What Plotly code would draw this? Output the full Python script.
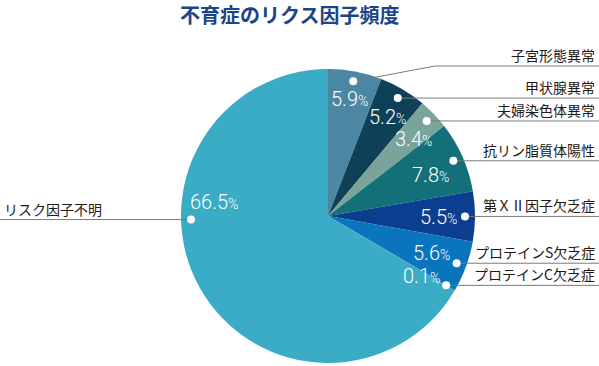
import math
import plotly.graph_objects as go

# ---- data ----
labels = ["子宮形態異常", "甲状腺異常", "夫婦染色体異常", "抗リン脂質体陽性",
          "第ＸⅡ因子欠乏症", "プロテインS欠乏症", "プロテインC欠乏症", "リスク因子不明"]
values = [5.9, 5.2, 3.4, 7.8, 5.5, 5.6, 0.1, 66.5]
colors = ["#4b87a3", "#0e4158", "#7aa39a", "#137078", "#0b3e8e", "#0a74bd", "#0a74bd", "#3aacc6"]
title = "不育症のリクス因子頻度"

# ---- layout parameters (pixels) ----
W, H = 599, 366
CX, CY, R = 328, 216, 147
DOT_R = 137
dot_angle_override = {7: 268.5}
# offset of percentage text from dot
text_off = [(-4, 18), (-10, 19), (-13, 18), (-23, 14), (-27, 1), (-25, -10), (-25, -9), (23, -18)]
elbow = {0: (435, 66)}

fig = go.Figure()
fig.add_trace(go.Pie(
    labels=labels, values=values, sort=False, direction="clockwise", rotation=0,
    marker=dict(colors=colors, line=dict(width=0)),
    textinfo="none", hoverinfo="label+percent", showlegend=False,
    domain=dict(x=[(CX - R) / W, (CX + R) / W], y=[1 - (CY + R) / H, 1 - (CY - R) / H]),
))

shapes = []
annotations = []
total = sum(values)
cum = 0.0
pct_font = "Roboto, Liberation Sans Narrow, sans-serif"
jp_font = "Noto Sans CJK JP, sans-serif"
for i, v in enumerate(values):
    ang = (cum + v / 2) / total * 360
    cum += v
    ang = dot_angle_override.get(i, ang)
    a = math.radians(ang)
    dx = CX + DOT_R * math.sin(a)
    dy = CY - DOT_R * math.cos(a)
    # leader line
    if i == 7:
        ly = dy
        shapes.append(dict(type="path", path=f"M 0 {ly} L {dx} {ly}",
                           line=dict(color="#7a7a7a", width=1), xref="x", yref="y"))
        annotations.append(dict(x=2, y=ly - 11, text=labels[i], showarrow=False,
                                xanchor="left", yanchor="middle", xref="x", yref="y",
                                font=dict(family=jp_font, size=14, color="#231815")))
    else:
        if i in elbow:
            ex, ey = elbow[i]
            path = f"M {dx} {dy} L {ex} {ey} L {W} {ey}"
            ly = ey
        else:
            ly = dy
            path = f"M {dx} {dy} L {W} {dy}"
        shapes.append(dict(type="path", path=path, line=dict(color="#7a7a7a", width=1),
                           xref="x", yref="y"))
        annotations.append(dict(x=597, y=ly - 11, text=labels[i], showarrow=False,
                                xanchor="right", yanchor="middle", xref="x", yref="y",
                                font=dict(family=jp_font, size=14, color="#231815")))
    # dot
    shapes.append(dict(type="circle", x0=dx - 4, x1=dx + 4, y0=dy - 4, y1=dy + 4,
                       fillcolor="white", line=dict(width=0), xref="x", yref="y"))
    # percentage
    ox, oy = text_off[i]
    annotations.append(dict(x=dx + ox, y=dy + oy,
                            text=f"{v}<span style='font-size:14px'>%</span>",
                            showarrow=False, xanchor="center", yanchor="middle",
                            xref="x", yref="y", borderpad=0,
                            font=dict(family=pct_font, size=20, color="white", weight=300)))

annotations.append(dict(x=289, y=14, text=f"<b>{title}</b>", showarrow=False,
                        xanchor="center", yanchor="middle", xref="x", yref="y",
                        font=dict(family=jp_font, size=20, color="#1e4488")))

fig.update_layout(
    width=W, height=H, margin=dict(l=0, r=0, t=0, b=0),
    paper_bgcolor="white", plot_bgcolor="rgba(0,0,0,0)",
    xaxis=dict(range=[0, W], visible=False, fixedrange=True, domain=[0, 1]),
    yaxis=dict(range=[H, 0], visible=False, fixedrange=True, domain=[0, 1]),
    shapes=shapes, annotations=annotations,
)
fig.write_html("out.html")
